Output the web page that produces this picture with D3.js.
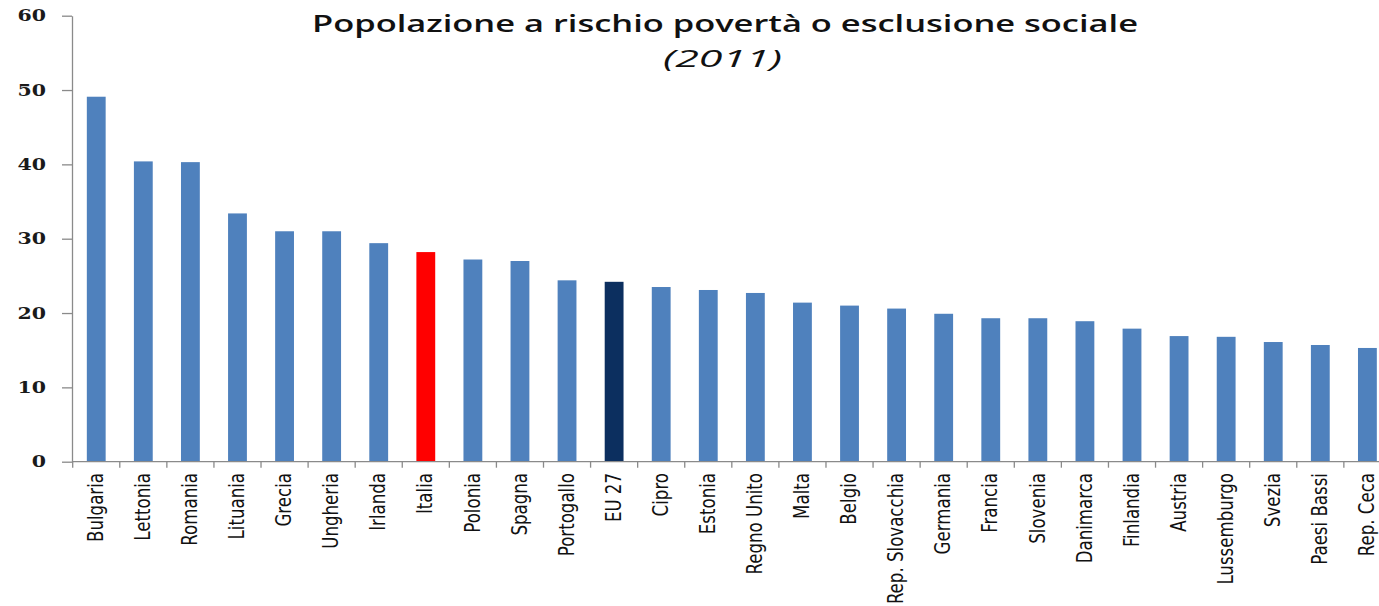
<!DOCTYPE html>
<html>
<head>
<meta charset="utf-8">
<script src="https://cdn.jsdelivr.net/npm/d3@7"></script>
<style>
  html, body { margin: 0; padding: 0; background: #ffffff; }
  svg { display: block; }
</style>
</head>
<body>
<svg id="chart" width="1379" height="606"></svg>
<script>
// Share of population at risk of poverty or social exclusion, 2011 (%)
const countries = ["Bulgaria", "Lettonia", "Romania", "Lituania", "Grecia", "Ungheria", "Irlanda", "Italia",
  "Polonia", "Spagna", "Portogallo", "EU 27", "Cipro", "Estonia", "Regno Unito", "Malta", "Belgio",
  "Rep. Slovacchia", "Germania", "Francia", "Slovenia", "Danimarca", "Finlandia", "Austria",
  "Lussemburgo", "Svezia", "Paesi Bassi", "Rep. Ceca"];
const values = [49.1, 40.4, 40.3, 33.4, 31.0, 31.0, 29.4, 28.2,
  27.2, 27.0, 24.4, 24.2, 23.5, 23.1, 22.7, 21.4, 21.0,
  20.6, 19.9, 19.3, 19.3, 18.9, 17.9, 16.9,
  16.8, 16.1, 15.7, 15.3];
const yTicks = [0, 10, 20, 30, 40, 50, 60];
const titleText = "Popolazione a rischio povertà o esclusione sociale";
const subtitleText = "(2011)";

const highlight = { "Italia": "#ff0000", "EU 27": "#0c2f5f" };
const baseColor = "#4f81bd";
const axisColor = "#8a8a8a";

const svg = d3.select("#chart");

const x = d3.scaleBand()
  .domain(countries)
  .range([72.7, 72.7 + 47.08 * countries.length])
  .paddingInner(0.6)
  .paddingOuter(0.3);

const y = d3.scaleLinear().domain([0, 60]).range([461.7, 15.7]);

// Bars
svg.append("g")
  .selectAll("rect")
  .data(countries)
  .join("rect")
  .attr("x", d => x(d))
  .attr("width", x.bandwidth())
  .attr("y", (d, i) => y(values[i]))
  .attr("height", (d, i) => y(0) - y(values[i]))
  .attr("fill", d => highlight[d] || baseColor);

// Y axis
const yAxis = svg.append("g")
  .attr("transform", "translate(72,0)")
  .call(d3.axisLeft(y).tickValues(yTicks).tickSize(10).tickSizeOuter(0));
yAxis.select(".domain").attr("stroke", axisColor).attr("stroke-width", 1.3);
yAxis.selectAll(".tick line").attr("stroke", axisColor).attr("stroke-width", 1.3);
yAxis.selectAll(".tick text")
  .attr("x", -26 / 1.28)
  .attr("transform", "scale(1.28,1)")
  .attr("fill", "#1a1a1a")
  .style("font-family", "'DejaVu Serif', serif")
  .style("font-weight", "bold")
  .style("font-size", "16px");

// X axis with boundary ticks between categories
const xAxisG = svg.append("g").attr("transform", "translate(0,461.7)");
xAxisG.append("line")
  .attr("x1", 72).attr("x2", 1379)
  .attr("stroke", axisColor).attr("stroke-width", 1.3);
xAxisG.selectAll("line.tick")
  .data(countries)
  .join("line")
  .attr("class", "tick")
  .attr("x1", d => x(d) - x.step() * 0.3)
  .attr("x2", d => x(d) - x.step() * 0.3)
  .attr("y1", 0).attr("y2", 6)
  .attr("stroke", axisColor).attr("stroke-width", 1.3);

// Rotated category labels (condensed, slightly widened glyphs)
svg.append("g")
  .selectAll("text")
  .data(countries)
  .join("text")
  .attr("transform", d => `translate(${x(d) + x.bandwidth() / 2 - 1},473) rotate(-90) scale(1,1.15)`)
  .attr("text-anchor", "end")
  .attr("dy", "0.36em")
  .attr("fill", "#111")
  .style("font-family", "'Liberation Sans Narrow', 'DejaVu Sans Condensed', sans-serif")
  .style("font-stretch", "condensed")
  .style("font-size", "18.5px")
  .text(d => d);

// Title
svg.append("text")
  .attr("x", 312).attr("y", 32)
  .attr("textLength", 826)
  .attr("lengthAdjust", "spacingAndGlyphs")
  .attr("fill", "#111")
  .style("font-family", "'Open Sans', sans-serif")
  .style("font-weight", "600")
  .style("font-size", "24px")
  .text(titleText);

svg.append("text")
  .attr("x", 663).attr("y", 67)
  .attr("textLength", 119)
  .attr("lengthAdjust", "spacingAndGlyphs")
  .attr("fill", "#111")
  .style("font-family", "'Open Sans', sans-serif")
  .style("font-style", "italic")
  .style("font-size", "23px")
  .text(subtitleText);
</script>
</body>
</html>
